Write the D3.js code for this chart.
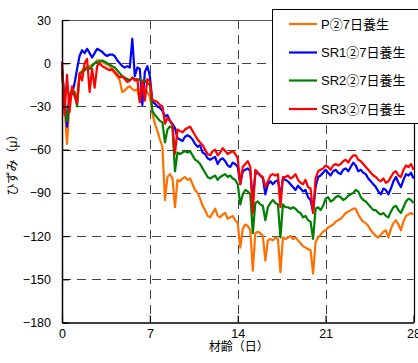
<!DOCTYPE html>
<html>
<head>
<meta charset="utf-8">
<script src="https://cdn.jsdelivr.net/npm/d3@7"></script>
<style>
  body { margin: 0; background: #fff; }
  svg { display: block; }
  text { font-family: "Liberation Sans", "Noto Sans CJK JP", sans-serif; fill: #000; }
</style>
</head>
<body>
<svg id="chart" width="418" height="363"></svg>
<script>
// Strain readings (μ) taken every 0.2 days of material age, day 0 to day 28.
const stepDays = 0.2;

const seriesP = [
  -2, -30, -56, -28, -20, -22, -23, -7, -5, -3,
  -3, -2, -1, 0, 2, 2, 1, 0, -1, -2,
  -5, -7, -9, -12, -20, -19, -17, -16, -18, -19,
  -18, -27, -23, -21, -20, -23, -35, -42, -47, -53,
  -58, -95, -79, -77, -80, -100, -81, -82, -80, -79,
  -81, -80, -84, -88, -90, -94, -99, -102, -106, -107,
  -104, -101, -106, -107, -105, -104, -108, -107, -106, -109,
  -111, -128, -115, -112, -113, -116, -144, -118, -117, -118,
  -120, -137, -123, -122, -123, -121, -122, -145, -121, -122,
  -121, -120, -122, -121, -123, -125, -127, -128, -129, -130,
  -146, -124, -121, -119, -117, -116, -114, -113, -112, -110,
  -109, -108, -106, -104, -103, -102, -101, -101, -105, -108,
  -110, -111, -113, -116, -118, -120, -121, -119, -117, -116,
  -121, -115, -111, -109, -112, -116, -110, -106, -105, -104,
  -105
];

const seriesSR1 = [
  -5, -24, -44, -22, -21, -14, -4, 5, 9, 7,
  10, 7, 4, 7, 10, 9, 8, 6, 5, 6,
  6, 5, 2, 0, -2, -3, -2, -3, 17, -9,
  -3, -4, -29, -6, -2, -9, -27, -28, -30, -31,
  -33, -37, -36, -40, -42, -45, -52, -53, -54, -51,
  -50, -51, -53, -56, -58, -57, -62, -63, -66, -67,
  -66, -65, -70, -67, -66, -68, -71, -72, -69, -70,
  -72, -84, -75, -74, -73, -75, -95, -77, -76, -78,
  -80, -91, -84, -82, -84, -82, -81, -92, -80, -81,
  -82, -84, -86, -88, -85, -87, -89, -88, -93, -95,
  -103, -86, -79, -78, -76, -74, -76, -78, -75, -74,
  -76, -77, -74, -73, -75, -72, -69, -71, -75, -74,
  -76, -77, -80, -82, -84, -86, -89, -91, -87, -88,
  -91, -87, -82, -79, -83, -86, -81, -77, -78, -76,
  -80
];

const seriesSR2 = [
  -3, -30, -40, -22, -18, -20, -30, -8, -6, -5,
  -3, -4, -2, 0, 1, 1, 2, 1, 0, -1,
  -2, -3, -5, -7, -9, -10, -11, -12, -10, -11,
  -12, -11, -13, -12, -14, -15, -33, -36, -38, -40,
  -41, -55, -46, -44, -45, -75, -62, -63, -62, -61,
  -62, -61, -64, -67, -68, -70, -73, -76, -79, -80,
  -79, -78, -81, -79, -78, -77, -79, -78, -80, -81,
  -84, -98, -91, -88, -89, -91, -118, -97, -96, -98,
  -99, -109, -100, -97, -95, -97, -98, -121, -98, -100,
  -100, -101, -100, -101, -103, -104, -107, -106, -109, -110,
  -122, -101, -100, -102, -99, -94, -93, -96, -95, -93,
  -92, -93, -95, -94, -92, -91, -90, -88, -89, -93,
  -95, -96, -98, -100, -102, -102, -104, -105, -104, -106,
  -107, -103, -100, -99, -102, -104, -100, -96, -94, -95,
  -97
];

const seriesSR3 = [
  1, -36, -8, -34, -16, -23, -28, -7, -12, 0,
  3, -20, -4, -17, -2, 0, -2, -3, -4, -5,
  -4, -6, -8, -10, -9, -11, -13, -12, -10, -12,
  -11, -27, -12, -26, -11, -13, -26, -26, -27, -29,
  -30, -42, -38, -40, -43, -63, -46, -47, -48, -46,
  -45, -44, -47, -50, -53, -55, -57, -60, -63, -64,
  -61, -60, -64, -62, -59, -61, -63, -62, -61, -63,
  -66, -84, -72, -70, -68, -72, -104, -74, -76, -78,
  -79, -86, -82, -78, -77, -78, -77, -100, -79, -79,
  -78, -80, -79, -77, -81, -83, -84, -81, -86, -87,
  -104, -80, -75, -74, -73, -71, -72, -74, -71, -70,
  -71, -70, -68, -67, -69, -66, -64, -64, -67, -68,
  -70, -72, -74, -76, -78, -79, -81, -82, -80, -83,
  -82, -79, -76, -75, -78, -79, -74, -71, -72, -70,
  -74
];

const seriesNames = ["P\u24617日養生", "SR1\u24617日養生", "SR2\u24617日養生", "SR3\u24617日養生"];
const seriesColors = ["#ff7000", "#0000ff", "#008000", "#ff0000"];
const xTicks = [0, 7, 14, 21, 28];
const yTicks = [30, 0, -30, -60, -90, -120, -150, -180];
const yGrid = [0, -30, -60, -90, -120, -150];
const xGrid = [7, 14, 21];
const xTitle = "材齢（日）";
const yTitle = "ひずみ（μ）";

const allSeries = [seriesP, seriesSR1, seriesSR2, seriesSR3];

const svg = d3.select("#chart");
const plotLeft = 62, plotRight = 413.5, plotTop = 20, plotBottom = 322.5;

const x = d3.scaleLinear().domain([0, 28]).range([plotLeft, plotRight]);
const y = d3.scaleLinear().domain([-180, 30]).range([plotBottom, plotTop]);

// dashed grid
const grid = svg.append("g").attr("stroke", "#444").attr("stroke-width", 1)
  .attr("stroke-dasharray", "9,6").attr("fill", "none");
grid.selectAll("line.h").data(yGrid).join("line").attr("class", "h")
  .attr("x1", plotLeft).attr("x2", plotRight)
  .attr("y1", d => Math.round(y(d)) + 0.5).attr("y2", d => Math.round(y(d)) + 0.5);
grid.selectAll("line.v").data(xGrid).join("line").attr("class", "v")
  .attr("y1", plotTop).attr("y2", plotBottom)
  .attr("x1", d => Math.round(x(d)) + 0.5).attr("x2", d => Math.round(x(d)) + 0.5);

// frame: top and right edges
svg.append("line").attr("x1", plotLeft).attr("x2", plotRight)
  .attr("y1", plotTop + 0.5).attr("y2", plotTop + 0.5)
  .attr("stroke", "#555").attr("stroke-width", 1);
svg.append("line").attr("x1", Math.round(plotRight) + 0.5).attr("x2", Math.round(plotRight) + 0.5)
  .attr("y1", plotTop).attr("y2", plotBottom).attr("stroke", "#000").attr("stroke-width", 1.2);

// strain curves
const line = d3.line()
  .x((d, i) => x(i * stepDays))
  .y(d => y(d));
svg.append("g").selectAll("path").data(allSeries).join("path")
  .attr("d", d => line(d))
  .attr("fill", "none")
  .attr("stroke", (d, i) => seriesColors[i])
  .attr("stroke-width", 2.2)
  .attr("stroke-linejoin", "round");

// axes
const fmt = d => d < 0 ? "\u2212" + Math.abs(d) : String(d);
const yAxis = svg.append("g").attr("transform", `translate(${plotLeft},0)`)
  .call(d3.axisLeft(y).tickValues(yTicks).tickSize(-7).tickSizeOuter(0).tickPadding(11).tickFormat(fmt));
const xAxis = svg.append("g").attr("transform", `translate(0,${plotBottom})`)
  .call(d3.axisBottom(x).tickValues(xTicks).tickSize(-7).tickSizeOuter(0).tickPadding(7).tickFormat(fmt));
[yAxis, xAxis].forEach(a => {
  a.select(".domain").attr("stroke", "#000").attr("stroke-width", 1.5);
  a.selectAll(".tick line").attr("stroke", "#000").attr("stroke-width", 1.2);
  a.selectAll("text").attr("font-size", 12.5).attr("font-family", "Liberation Sans, Noto Sans CJK JP, sans-serif");
});

// axis titles
svg.append("text").attr("x", (plotLeft + plotRight) / 2 + 1).attr("y", 351)
  .attr("text-anchor", "middle").attr("font-size", 12).text(xTitle);
svg.append("text").attr("transform", "translate(17,162) rotate(-90)")
  .attr("text-anchor", "middle").attr("font-size", 12).text(yTitle);

// legend
const lg = svg.append("g");
lg.append("rect").attr("x", 272.5).attr("y", 9.5).attr("width", 160).attr("height", 114)
  .attr("fill", "#fff").attr("stroke", "#000").attr("stroke-width", 1);
const rowsY = [24, 52.5, 80.5, 109];
const items = lg.selectAll("g.item").data(seriesNames).join("g").attr("class", "item")
  .attr("transform", (d, i) => `translate(0,${rowsY[i]})`);
items.append("line").attr("x1", 289).attr("x2", 317).attr("y1", 0).attr("y2", 0)
  .attr("stroke", (d, i) => seriesColors[i]).attr("stroke-width", 2.2);
items.append("text").attr("x", 321).attr("dy", "0.36em").attr("font-size", 13).text(d => d);
</script>
</body>
</html>
